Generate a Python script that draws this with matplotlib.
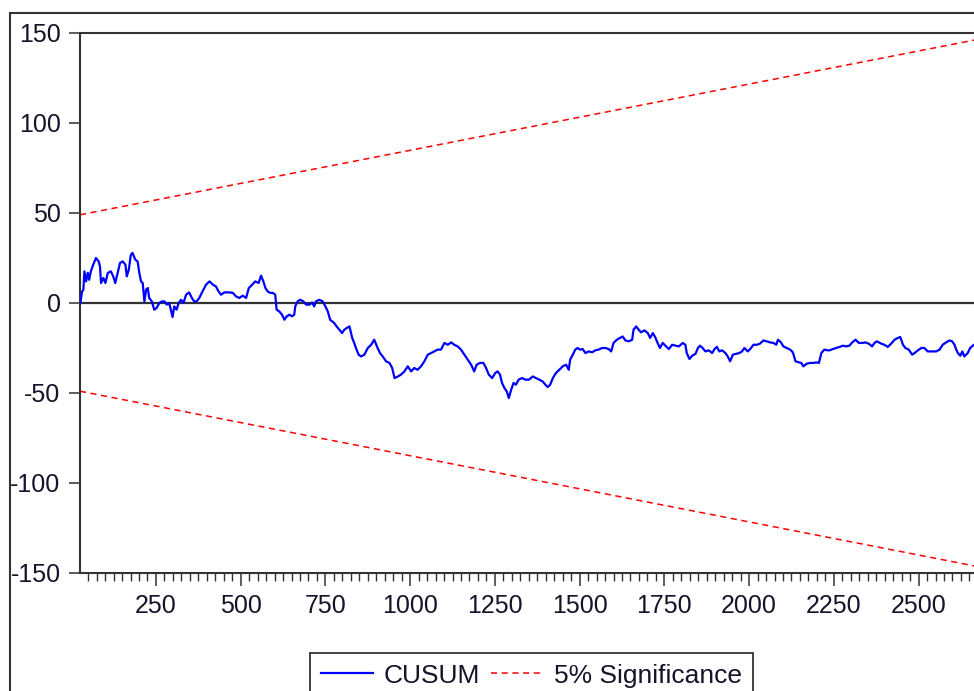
"""CUSUM test chart (EViews style) rendered with matplotlib to out.png."""

import matplotlib
matplotlib.use("Agg")
import matplotlib.pyplot as plt
from matplotlib.patches import Rectangle
from matplotlib.ticker import MultipleLocator

cusum_x = [
    27, 32, 36, 39, 44, 49, 53, 58, 65, 73, 81, 85, 88, 95, 101, 108, 117, 124,
    130, 137, 144, 152, 160, 164, 170, 176, 181, 189, 196, 201, 206, 211, 216,
    221, 226, 230, 238, 245, 252, 260, 268, 275, 282, 289, 294, 299, 304, 311,
    317, 324, 331, 339, 348, 356, 363, 370, 378, 386, 398, 408, 418, 427, 435,
    442, 452, 467, 477, 486, 496, 506, 516, 524, 534, 543, 553, 560, 567, 573,
    580, 587, 595, 602, 606, 614, 622, 629, 636, 644, 652, 658, 661, 668, 675,
    685, 693, 703, 711, 717, 722, 732, 742, 750, 757, 764, 770, 776, 783, 791,
    799, 806, 813, 821, 829, 835, 840, 848, 855, 865, 875, 885, 894, 904, 911,
    919, 929, 939, 947, 954, 964, 973, 983, 993, 1003, 1012, 1022, 1032, 1042,
    1052, 1062, 1071, 1081, 1091, 1101, 1111, 1121, 1130, 1140, 1150, 1160,
    1170, 1180, 1189, 1196, 1206, 1216, 1224, 1232, 1242, 1251, 1258, 1265,
    1271, 1278, 1285, 1291, 1298, 1305, 1312, 1320, 1330, 1340, 1350, 1362,
    1371, 1381, 1391, 1399, 1406, 1413, 1421, 1430, 1440, 1450, 1460, 1468,
    1472, 1480, 1487, 1494, 1501, 1509, 1517, 1527, 1537, 1546, 1556, 1566,
    1576, 1586, 1593, 1600, 1610, 1619, 1627, 1635, 1645, 1655, 1659, 1667,
    1674, 1681, 1691, 1701, 1708, 1716, 1724, 1730, 1737, 1745, 1753, 1763,
    1773, 1783, 1793, 1804, 1812, 1816, 1824, 1832, 1842, 1849, 1855, 1863,
    1871, 1881, 1891, 1898, 1905, 1912, 1920, 1930, 1937, 1944, 1952, 1962,
    1971, 1979, 1986, 1996, 2003, 2013, 2023, 2032, 2042, 2052, 2062, 2072,
    2080, 2085, 2094, 2101, 2111, 2121, 2129, 2137, 2147, 2154, 2160, 2170,
    2180, 2190, 2198, 2206, 2213, 2222, 2232, 2237, 2247, 2257, 2267, 2277,
    2286, 2296, 2304, 2314, 2324, 2334, 2343, 2353, 2363, 2370, 2377, 2383,
    2390, 2399, 2409, 2419, 2429, 2439, 2446, 2454, 2461, 2471, 2481, 2488,
    2498, 2508, 2517, 2527, 2537, 2552, 2562, 2571, 2581, 2591, 2599, 2606,
    2611, 2616, 2623, 2629, 2635, 2645, 2652, 2660, 2668,
]
cusum_y = [
    0.0, 6.3, 7.4, 17.6, 12.0, 16.8, 12.9, 17.6, 21.3, 25.0, 23.1, 20.3, 11.1,
    13.9, 11.1, 16.7, 17.6, 14.8, 11.1, 16.7, 22.2, 23.1, 21.3, 14.8, 18.5,
    26.8, 27.8, 24.1, 23.1, 16.7, 12.0, 11.1, 0.9, 7.4, 8.3, 2.8, 0.9, -3.7,
    -2.8, 0.0, 0.9, 0.9, -0.9, 0.0, -3.7, -7.8, -1.9, -3.7, 0.0, 1.8, 0.0, 4.6,
    5.9, 2.8, 0.9, 0.9, 2.8, 5.9, 10.2, 12.0, 10.2, 9.2, 6.4, 4.6, 5.9, 5.9,
    5.6, 3.7, 2.8, 4.1, 2.8, 8.3, 10.2, 12.0, 11.1, 15.2, 12.0, 8.3, 6.4, 5.6,
    5.6, 4.6, -3.7, -4.7, -6.5, -9.3, -7.4, -6.5, -7.4, -6.5, -1.9, 0.9, 1.8,
    0.9, -0.9, -0.9, 0.3, -1.9, 0.9, 1.8, 0.9, -1.9, -4.7, -9.3, -10.2, -11.1,
    -13.0, -14.8, -16.7, -14.8, -13.9, -13.0, -19.4, -22.2, -25.0, -28.7,
    -29.7, -28.7, -25.0, -23.2, -20.4, -25.0, -27.8, -29.7, -32.4, -33.3,
    -36.1, -41.7, -40.8, -39.8, -38.0, -35.2, -38.0, -36.1, -37.1, -35.2,
    -32.4, -28.7, -27.8, -26.9, -25.9, -25.9, -22.2, -23.2, -21.9, -23.2,
    -24.1, -25.9, -28.7, -31.5, -34.3, -38.0, -34.3, -33.3, -33.3, -36.1,
    -39.8, -41.7, -38.9, -38.0, -39.8, -44.4, -47.2, -49.1, -52.8, -48.2,
    -44.4, -45.4, -42.6, -41.7, -42.6, -42.6, -40.8, -41.7, -42.6, -43.6,
    -45.4, -46.7, -45.4, -41.7, -38.9, -37.1, -35.2, -34.3, -37.1, -31.5,
    -28.7, -25.9, -25.0, -25.9, -25.6, -27.8, -26.9, -27.4, -26.3, -25.9,
    -25.0, -25.0, -25.6, -26.9, -22.2, -20.4, -19.4, -18.6, -20.8, -21.3,
    -20.4, -14.8, -13.0, -14.8, -16.3, -15.2, -16.7, -19.4, -16.7, -19.4,
    -22.2, -25.0, -22.2, -23.7, -25.6, -23.2, -23.7, -24.1, -22.2, -23.2,
    -27.8, -31.1, -29.3, -28.2, -25.0, -23.7, -25.0, -26.9, -26.3, -27.8,
    -25.6, -24.4, -26.9, -26.3, -27.8, -29.7, -32.4, -28.7, -28.2, -27.8,
    -26.9, -25.0, -26.9, -25.6, -23.2, -23.2, -22.6, -20.8, -21.3, -21.9,
    -22.2, -23.2, -20.4, -21.9, -24.1, -25.0, -25.9, -27.4, -32.4, -33.0,
    -33.3, -35.2, -33.7, -33.3, -33.3, -33.0, -33.3, -27.8, -25.9, -26.3,
    -26.3, -25.6, -25.0, -24.4, -23.7, -24.1, -23.7, -21.9, -20.4, -22.2,
    -22.2, -21.9, -22.6, -24.1, -22.2, -21.3, -21.9, -22.6, -23.2, -24.4,
    -22.6, -20.4, -19.4, -18.9, -23.2, -25.0, -25.9, -28.7, -27.8, -26.3,
    -25.0, -25.0, -26.9, -26.9, -26.9, -25.9, -23.2, -21.9, -20.8, -21.3,
    -23.2, -25.9, -27.8, -29.3, -26.9, -29.7, -27.8, -25.0, -23.7, -22.6,
]

# 5% significance bounds (straight lines between first and last observation)
sig_x = [26, 2690]
sig_upper = [49, 147]
sig_lower = [-49, -147]

y_ticks = [-150, -100, -50, 0, 50, 100, 150]
x_ticks = [250, 500, 750, 1000, 1250, 1500, 1750, 2000, 2250, 2500]

W, H = 974, 691
TEXT = "#14142a"
FRAME = "#333333"


def main():
    plt.rcParams["font.family"] = ["Liberation Sans", "DejaVu Sans"]
    plt.rcParams["axes.unicode_minus"] = False

    fig = plt.figure(figsize=(W / 100, H / 100), dpi=100)
    fig.patch.set_facecolor("white")

    # axes: left edge at px 80, y from 33 (150) to 573 (-150), right edge cropped
    ax = fig.add_axes([80 / W, 1 - 573 / H, 903 / W, 540 / H])

    ax.axhline(0, color=FRAME, lw=1.6, zorder=1)
    ax.plot(cusum_x, cusum_y, color="#0000ff", lw=1.6, zorder=3, label="CUSUM")
    ax.plot(sig_x, sig_upper, color="#ff0000", lw=1.1,
            dashes=(4, 3), zorder=2, label="5% Significance")
    ax.plot(sig_x, sig_lower, color="#ff0000", lw=1.1,
            dashes=(4, 3), zorder=2)

    ax.set_xlim(26, 2690)
    ax.set_ylim(-150, 150)
    ax.set_yticks(y_ticks)
    ax.set_xticks(x_ticks)
    ax.xaxis.set_minor_locator(MultipleLocator(25))

    for side in ("left", "bottom", "top"):
        ax.spines[side].set_color(FRAME)
        ax.spines[side].set_linewidth(1.5)
    ax.spines["right"].set_visible(False)

    ax.tick_params(axis="x", which="major", direction="out", length=9.5,
                   width=1.1, color=FRAME, labelsize=18, labelcolor=TEXT, pad=5.5)
    ax.tick_params(axis="x", which="minor", direction="out", length=5.5,
                   width=1.0, color=FRAME)
    ax.tick_params(axis="y", which="major", direction="out", length=8,
                   width=1.1, color=FRAME, labelsize=18, labelcolor=TEXT, pad=6)

    # outer EViews frame (only left and top edges are inside the crop)
    fig.add_artist(Rectangle((9.5 / W, -0.1), 2.0, 1 - 12.5 / H + 0.1,
                             transform=fig.transFigure, fill=False,
                             edgecolor=FRAME, lw=1.5))

    leg = ax.legend(loc="upper left", bbox_to_anchor=(310 / W, 1 - 653 / H),
                    bbox_transform=fig.transFigure, ncol=2, fontsize=19,
                    frameon=True, fancybox=False, borderaxespad=0,
                    handlelength=2.0, handletextpad=0.4, columnspacing=0.4,
                    borderpad=0.4)
    leg.get_frame().set_edgecolor("black")
    leg.get_frame().set_linewidth(1.3)
    for t in leg.get_texts():
        t.set_color(TEXT)

    fig.savefig("out.png", dpi=100)
    plt.close(fig)


if __name__ == "__main__":
    main()
